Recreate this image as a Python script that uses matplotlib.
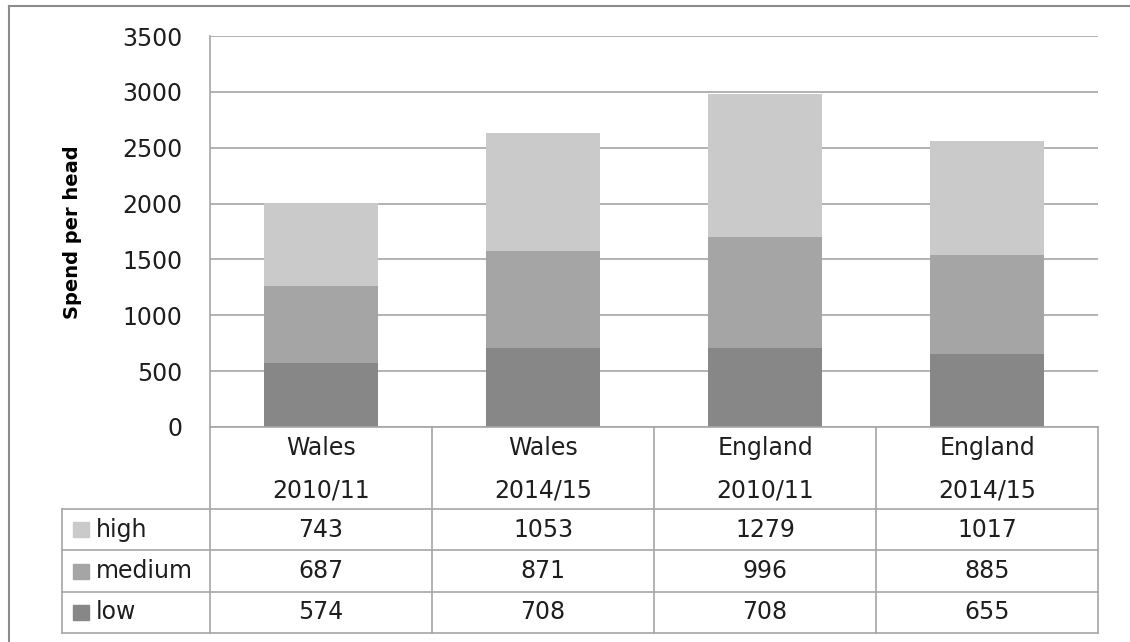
import matplotlib.pyplot as plt
from matplotlib.patches import Rectangle
from matplotlib.lines import Line2D

plt.rcParams['font.family'] = ['DejaVu Sans']

regions = ['Wales', 'Wales', 'England', 'England']
years = ['2010/11', '2014/15', '2010/11', '2014/15']
series = ['high', 'medium', 'low']
high = [743, 1053, 1279, 1017]
medium = [687, 871, 996, 885]
low = [574, 708, 708, 655]
colors = {'high': '#cacaca', 'medium': '#a5a5a5', 'low': '#878787'}

W, H = 1130, 642
fig = plt.figure(figsize=(W / 100, H / 100), dpi=100)

def fx(px):
    return px / W

def fy(py):
    return 1 - py / H

grid_c = '#a6a6a6'
text_c = '#1e1e1e'
fs = 17

# bar area
x0, x1, ytop, ybot = 210, 1098, 36, 427
ax = fig.add_axes([fx(x0), fy(ybot), fx(x1) - fx(x0), fy(ytop) - fy(ybot)])
n = len(regions)
xs = list(range(n))
ax.set_xlim(-0.5, n - 0.5)
ax.set_ylim(0, 3500)
ax.set_yticks(range(0, 3501, 500))
ax.yaxis.grid(True, color=grid_c, linewidth=1.2)
ax.set_axisbelow(True)
ax.set_xticks([])
ax.tick_params(axis='y', length=0, pad=20, labelsize=fs, labelcolor=text_c)
for s in ['top', 'right', 'bottom']:
    ax.spines[s].set_visible(False)
ax.spines['left'].set_color(grid_c)
ax.spines['left'].set_linewidth(1.2)

bw = 0.51
ax.bar(xs, low, bw, color=colors['low'], zorder=2)
ax.bar(xs, medium, bw, bottom=low, color=colors['medium'], zorder=2)
bottom_high = [l + m for l, m in zip(low, medium)]
ax.bar(xs, high, bw, bottom=bottom_high, color=colors['high'], zorder=2)

fig.text(fx(72), fy(232), 'Spend per head', rotation=90, fontsize=14,
         fontweight='bold', ha='center', va='center', color='black')

# data table under the bars
tl, tb = 62, 633
head_b = 509
row_h = (tb - head_b) / len(series)
col_w = (x1 - x0) / n
tax = fig.add_axes([0, 0, 1, 1])
tax.set_xlim(0, W)
tax.set_ylim(H, 0)
tax.axis('off')

def hline(xa, xb, y):
    tax.add_line(Line2D([xa, xb], [y, y], color=grid_c, lw=1.2))

def vline(x, ya, yb):
    tax.add_line(Line2D([x, x], [ya, yb], color=grid_c, lw=1.2))

hline(x0, x1, ybot)
hline(tl, x1, head_b)
for i in range(1, len(series) + 1):
    hline(tl, x1, head_b + i * row_h)
vline(tl, head_b, tb)
for i in range(n + 1):
    vline(x0 + i * col_w, ybot, tb)

for i in range(n):
    cx = x0 + (i + 0.5) * col_w
    tax.text(cx, 448, regions[i], ha='center', va='center', fontsize=fs, color=text_c)
    tax.text(cx, 490, years[i], ha='center', va='center', fontsize=fs, color=text_c)

values = {'high': high, 'medium': medium, 'low': low}
for r, name in enumerate(series):
    cy = head_b + (r + 0.5) * row_h
    tax.add_patch(Rectangle((73, cy - 7.5), 16, 15, color=colors[name]))
    tax.text(96, cy, name, ha='left', va='center', fontsize=fs, color=text_c)
    for i in range(n):
        cx = x0 + (i + 0.5) * col_w
        tax.text(cx, cy, str(values[name][i]), ha='center', va='center',
                 fontsize=fs, color=text_c)

# chart frame, left and top edges
tax.add_line(Line2D([9, 9], [6, H + 5], color='#8c8c8c', lw=1.5))
tax.add_line(Line2D([9, W + 5], [6, 6], color='#8c8c8c', lw=1.5))

fig.savefig('out.png', dpi=100)
